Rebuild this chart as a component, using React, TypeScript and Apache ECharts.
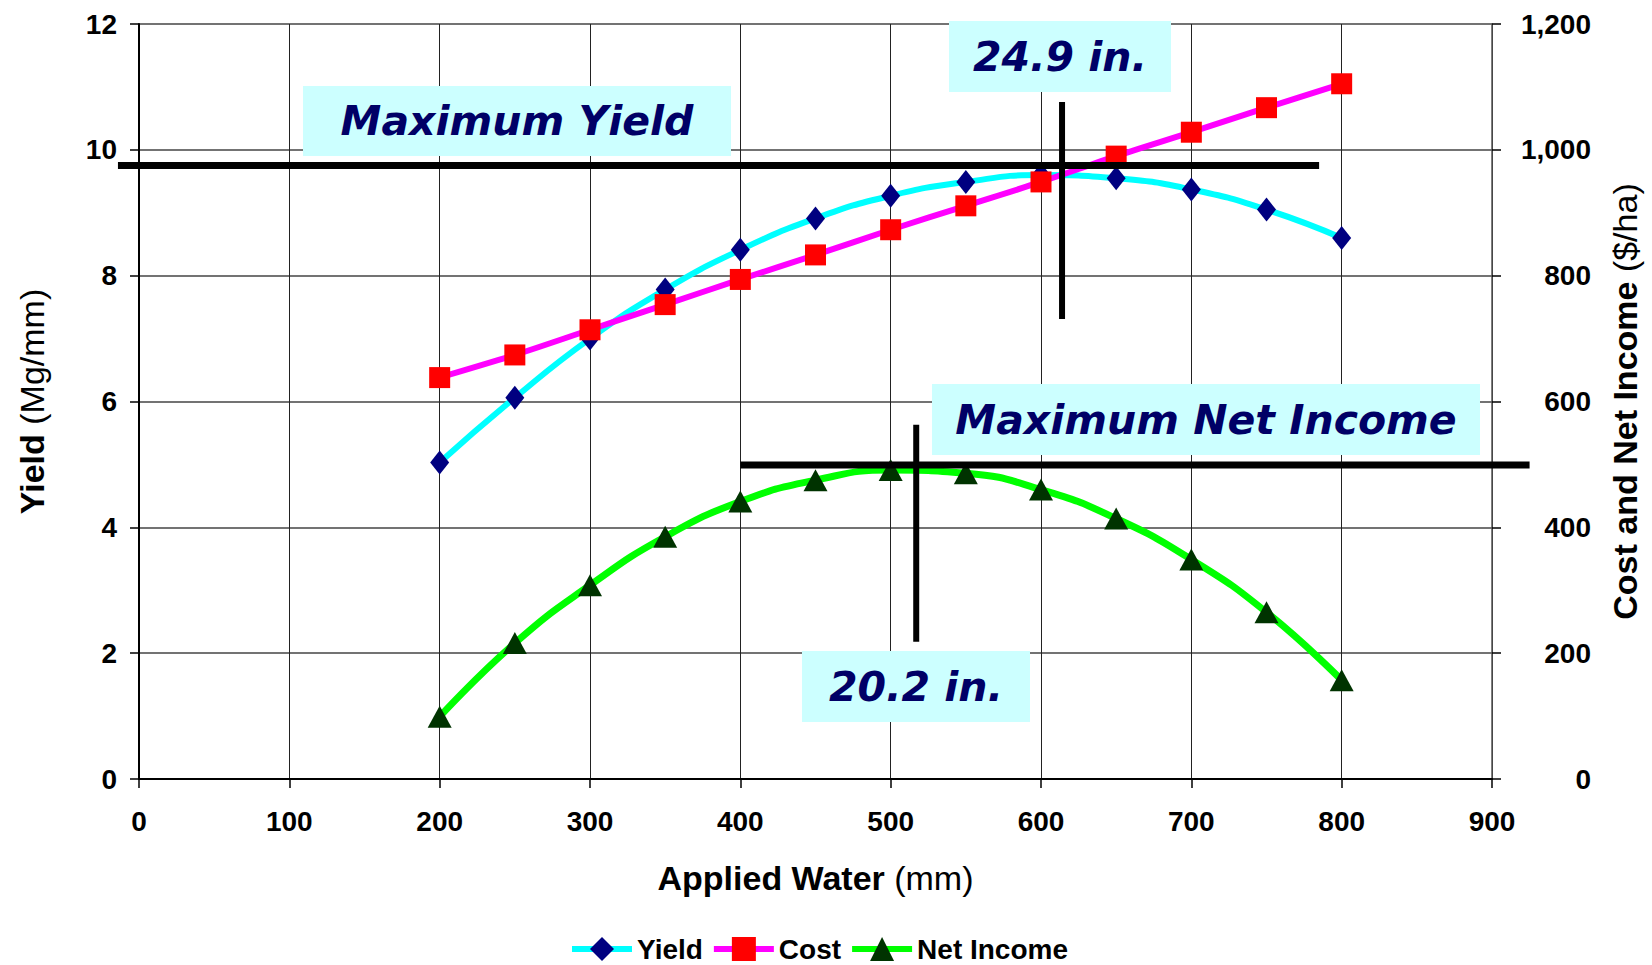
import { useEffect, useRef } from 'react';
import * as echarts from 'echarts';

// Applied water (mm)
const water = [200, 250, 300, 350, 400, 450, 500, 550, 600, 650, 700, 750, 800];
// Yield (Mg/ha) - left axis
const yieldVals = [5.03, 6.06, 7.0, 7.78, 8.41, 8.91, 9.27, 9.49, 9.6, 9.55, 9.37, 9.05, 8.6];
// Cost ($/ha) - right axis
const costVals = [638, 674, 714, 754, 794, 833, 873, 911, 949, 990, 1028, 1067, 1105];
// Net income ($/ha) - right axis
const netIncomeVals = [99, 216, 308, 385, 441, 475, 491, 486, 460, 414, 349, 265, 157];

const seriesNames = ['Yield', 'Cost', 'Net Income'];

// Annotation reference lines, in data units
const maxYieldLine = { level: 9.75, from: -14, to: 785 };          // left axis
const maxYieldWater = { x: 614, from: 10.76, to: 7.31 };           // left axis
const maxNetLine = { level: 499, from: 400, to: 925 };             // right axis
const maxNetWater = { x: 517, from: 563, to: 218 };                // right axis

const annotationTexts = ['Maximum Yield', '24.9 in.', 'Maximum Net Income', '20.2 in.'];

const FONT = '"Liberation Sans", Arial, sans-serif';

export default function App() {
  const ref = useRef<HTMLDivElement>(null);

  useEffect(() => {
    const chart = echarts.init(ref.current!, null, { renderer: 'svg' });
    const pairs = (vals: number[]) => water.map((w, i) => [w, vals[i]]);

    const nameRich = {
      b: { fontFamily: FONT, fontSize: 34, fontWeight: 'bold', color: '#000' },
      r: { fontFamily: FONT, fontSize: 34, fontWeight: 'normal', color: '#000' },
    };

    chart.setOption({
      animation: false,
      backgroundColor: '#fff',
      grid: { left: 139, right: 160, top: 24, bottom: 186, containLabel: false },
      legend: {
        data: seriesNames,
        top: 934,
        left: 569,
        padding: 0,
        itemWidth: 60,
        itemHeight: 30,
        itemGap: 8,
        lineStyle: { width: 6 },
        textStyle: { fontFamily: FONT, fontSize: 28, lineHeight: 30, fontWeight: 'bold', color: '#000' },
      },
      xAxis: {
        type: 'value',
        min: 0,
        max: 900,
        interval: 100,
        name: '{b|Applied Water}{r| (mm)}',
        nameLocation: 'middle',
        nameGap: 82,
        nameTextStyle: { rich: nameRich },
        axisLine: { show: true, lineStyle: { color: '#000', width: 2 } },
        axisTick: { show: true, inside: false, length: 9, lineStyle: { color: '#000', width: 1.5 } },
        axisLabel: { margin: 28, fontFamily: FONT, fontSize: 28, fontWeight: 'bold', color: '#000' },
        splitLine: { show: true, lineStyle: { color: '#222', width: 1 } },
      },
      yAxis: [
        {
          type: 'value',
          min: 0,
          max: 12,
          interval: 2,
          position: 'left',
          name: '{b|Yield}{r| (Mg/mm)}',
          nameLocation: 'middle',
          nameRotate: 90,
          nameGap: 90,
          nameTextStyle: { rich: nameRich },
          axisLine: { show: true, lineStyle: { color: '#000', width: 2 } },
          axisTick: { show: true, inside: false, length: 9, lineStyle: { color: '#000', width: 1.5 } },
          axisLabel: { margin: 22, fontFamily: FONT, fontSize: 28, fontWeight: 'bold', color: '#000' },
          splitLine: { show: true, lineStyle: { color: '#444', width: 1.5 } },
        },
        {
          type: 'value',
          min: 0,
          max: 1200,
          interval: 200,
          position: 'right',
          name: '{b|Cost and Net Income}{r| ($/ha)}',
          nameLocation: 'middle',
          nameRotate: 90,
          nameGap: 116,
          nameTextStyle: { rich: nameRich },
          axisLine: { show: true, lineStyle: { color: '#555', width: 1.5 } },
          axisTick: { show: true, inside: false, length: 9, lineStyle: { color: '#000', width: 1.5 } },
          axisLabel: {
            margin: 99,
            align: 'right',
            fontFamily: FONT,
            fontSize: 28,
            fontWeight: 'bold',
            color: '#000',
            formatter: (v: number) => v.toLocaleString('en-US'),
          },
          splitLine: { show: false },
        },
      ],
      series: [
        {
          name: seriesNames[0],
          type: 'line',
          yAxisIndex: 0,
          data: pairs(yieldVals),
          smooth: 0.5,
          symbol: 'diamond',
          symbolSize: [19, 24],
          lineStyle: { color: '#00FFFF', width: 6 },
          itemStyle: { color: '#000080' },
          z: 2,
        },
        {
          name: seriesNames[1],
          type: 'line',
          yAxisIndex: 1,
          data: pairs(costVals),
          smooth: 0.3,
          symbol: 'rect',
          symbolSize: 21,
          lineStyle: { color: '#FF00FF', width: 6 },
          itemStyle: { color: '#FF0000' },
          z: 3,
        },
        {
          name: seriesNames[2],
          type: 'line',
          yAxisIndex: 1,
          data: pairs(netIncomeVals),
          smooth: 0.5,
          symbol: 'triangle',
          symbolSize: [24, 22],
          lineStyle: { color: '#00FF00', width: 7 },
          itemStyle: { color: '#003300' },
          z: 3,
        },
      ],
    });

    const px = (v: number) => chart.convertToPixel({ xAxisIndex: 0 }, v) as number;
    const pyL = (v: number) => chart.convertToPixel({ yAxisIndex: 0 }, v) as number;
    const pyR = (v: number) => chart.convertToPixel({ yAxisIndex: 1 }, v) as number;

    const box = (x: number, y: number, w: number, h: number, text: string) => ({
      type: 'group',
      z: 90,
      children: [
        { type: 'rect', shape: { x, y, width: w, height: h }, style: { fill: '#CCFFFF' }, z: 90 },
        {
          type: 'text',
          x: x + w / 2,
          y: y + h / 2,
          z: 91,
          style: {
            text,
            fill: '#000066',
            fontFamily: '"DejaVu Sans", sans-serif',
            fontSize: 41,
            fontWeight: 'bold',
            fontStyle: 'italic',
            align: 'center',
            verticalAlign: 'middle',
            textAlign: 'center',
            textVerticalAlign: 'middle',
          },
        },
      ],
    });

    const line = (x1: number, y1: number, x2: number, y2: number, w: number) => ({
      type: 'line',
      z: 100,
      shape: { x1, y1, x2, y2 },
      style: { stroke: '#000', lineWidth: w },
    });

    chart.setOption({
      graphic: [
        box(303, 86, 428, 70, annotationTexts[0]),
        box(949, 21, 222, 71, annotationTexts[1]),
        box(932, 384, 548, 71, annotationTexts[2]),
        box(802, 651, 228, 71, annotationTexts[3]),
        line(px(maxYieldLine.from), pyL(maxYieldLine.level), px(maxYieldLine.to), pyL(maxYieldLine.level), 7),
        line(px(maxYieldWater.x), pyL(maxYieldWater.from), px(maxYieldWater.x), pyL(maxYieldWater.to), 6),
        line(px(maxNetLine.from), pyR(maxNetLine.level), px(maxNetLine.to), pyR(maxNetLine.level), 7),
        line(px(maxNetWater.x), pyR(maxNetWater.from), px(maxNetWater.x), pyR(maxNetWater.to), 6),
      ],
    });

    return () => chart.dispose();
  }, []);

  return (
    <div
      ref={ref}
      style={{ position: 'fixed', left: 0, top: 0, width: 1652, height: 965, background: '#fff' }}
    />
  );
}
